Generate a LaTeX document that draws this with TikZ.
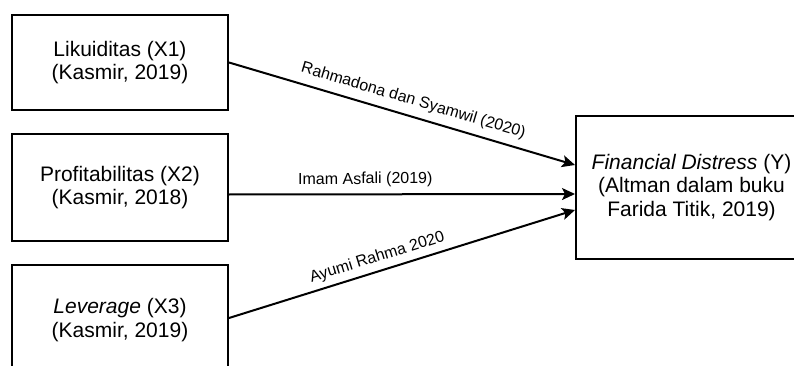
\documentclass[tikz,border=0pt]{standalone}
\usepackage{fontspec}
\setmainfont{Liberation Sans}
\usetikzlibrary{arrows.meta,calc}
\begin{document}
\begin{tikzpicture}[x=1pt,y=1pt,
  box/.style={draw, line width=2pt, align=center, inner sep=0pt, font=\fontsize{21}{23.5}\selectfont},
  link/.style={line width=2pt, -{Stealth[length=13pt,width=12pt,inset=3pt]}},
  lab/.style={font=\fontsize{16}{19}\selectfont, sloped, inner sep=2pt}]
\clip (0,0) rectangle (794,-366);
\node[box, minimum width=216, minimum height=95] (x1) at (120,-62.5) {Likuiditas (X1)\\(Kasmir, 2019)};
\node[box, minimum width=216, minimum height=107] (x2) at (120,-187.5) {Profitabilitas (X2)\\(Kasmir, 2018)};
\node[box, minimum width=216, minimum height=110] (x3) at (120,-320) {\textit{Leverage} (X3)\\(Kasmir, 2019)};
\node[box, minimum width=231, minimum height=143] (y) at (691.5,-187.5) {\textit{Financial Distress} (Y)\\(Altman dalam buku\\Farida Titik, 2019)};
\coordinate (s1) at (x1.east);
\coordinate (s2) at ($(x2.east)+(0,-7)$);
\coordinate (s3) at ($(x3.east)+(0,2)$);
\coordinate (t1) at ($(y.west)+(0,22.5)$);
\coordinate (t2) at ($(y.west)+(0,-6.5)$);
\coordinate (t3) at ($(y.west)+(0,-22.5)$);
\draw[link] (s1) -- node[lab, above=5pt, pos=0.52] {Rahmadona dan Syamwil (2020)} (t1);
\draw[link] (s2) -- node[lab, above=4pt, pos=0.394] {Imam Asfali (2019)} (t2);
\draw[link] (s3) -- node[lab, above=3pt, pos=0.44] {Ayumi Rahma 2020} (t3);
\end{tikzpicture}
\end{document}
